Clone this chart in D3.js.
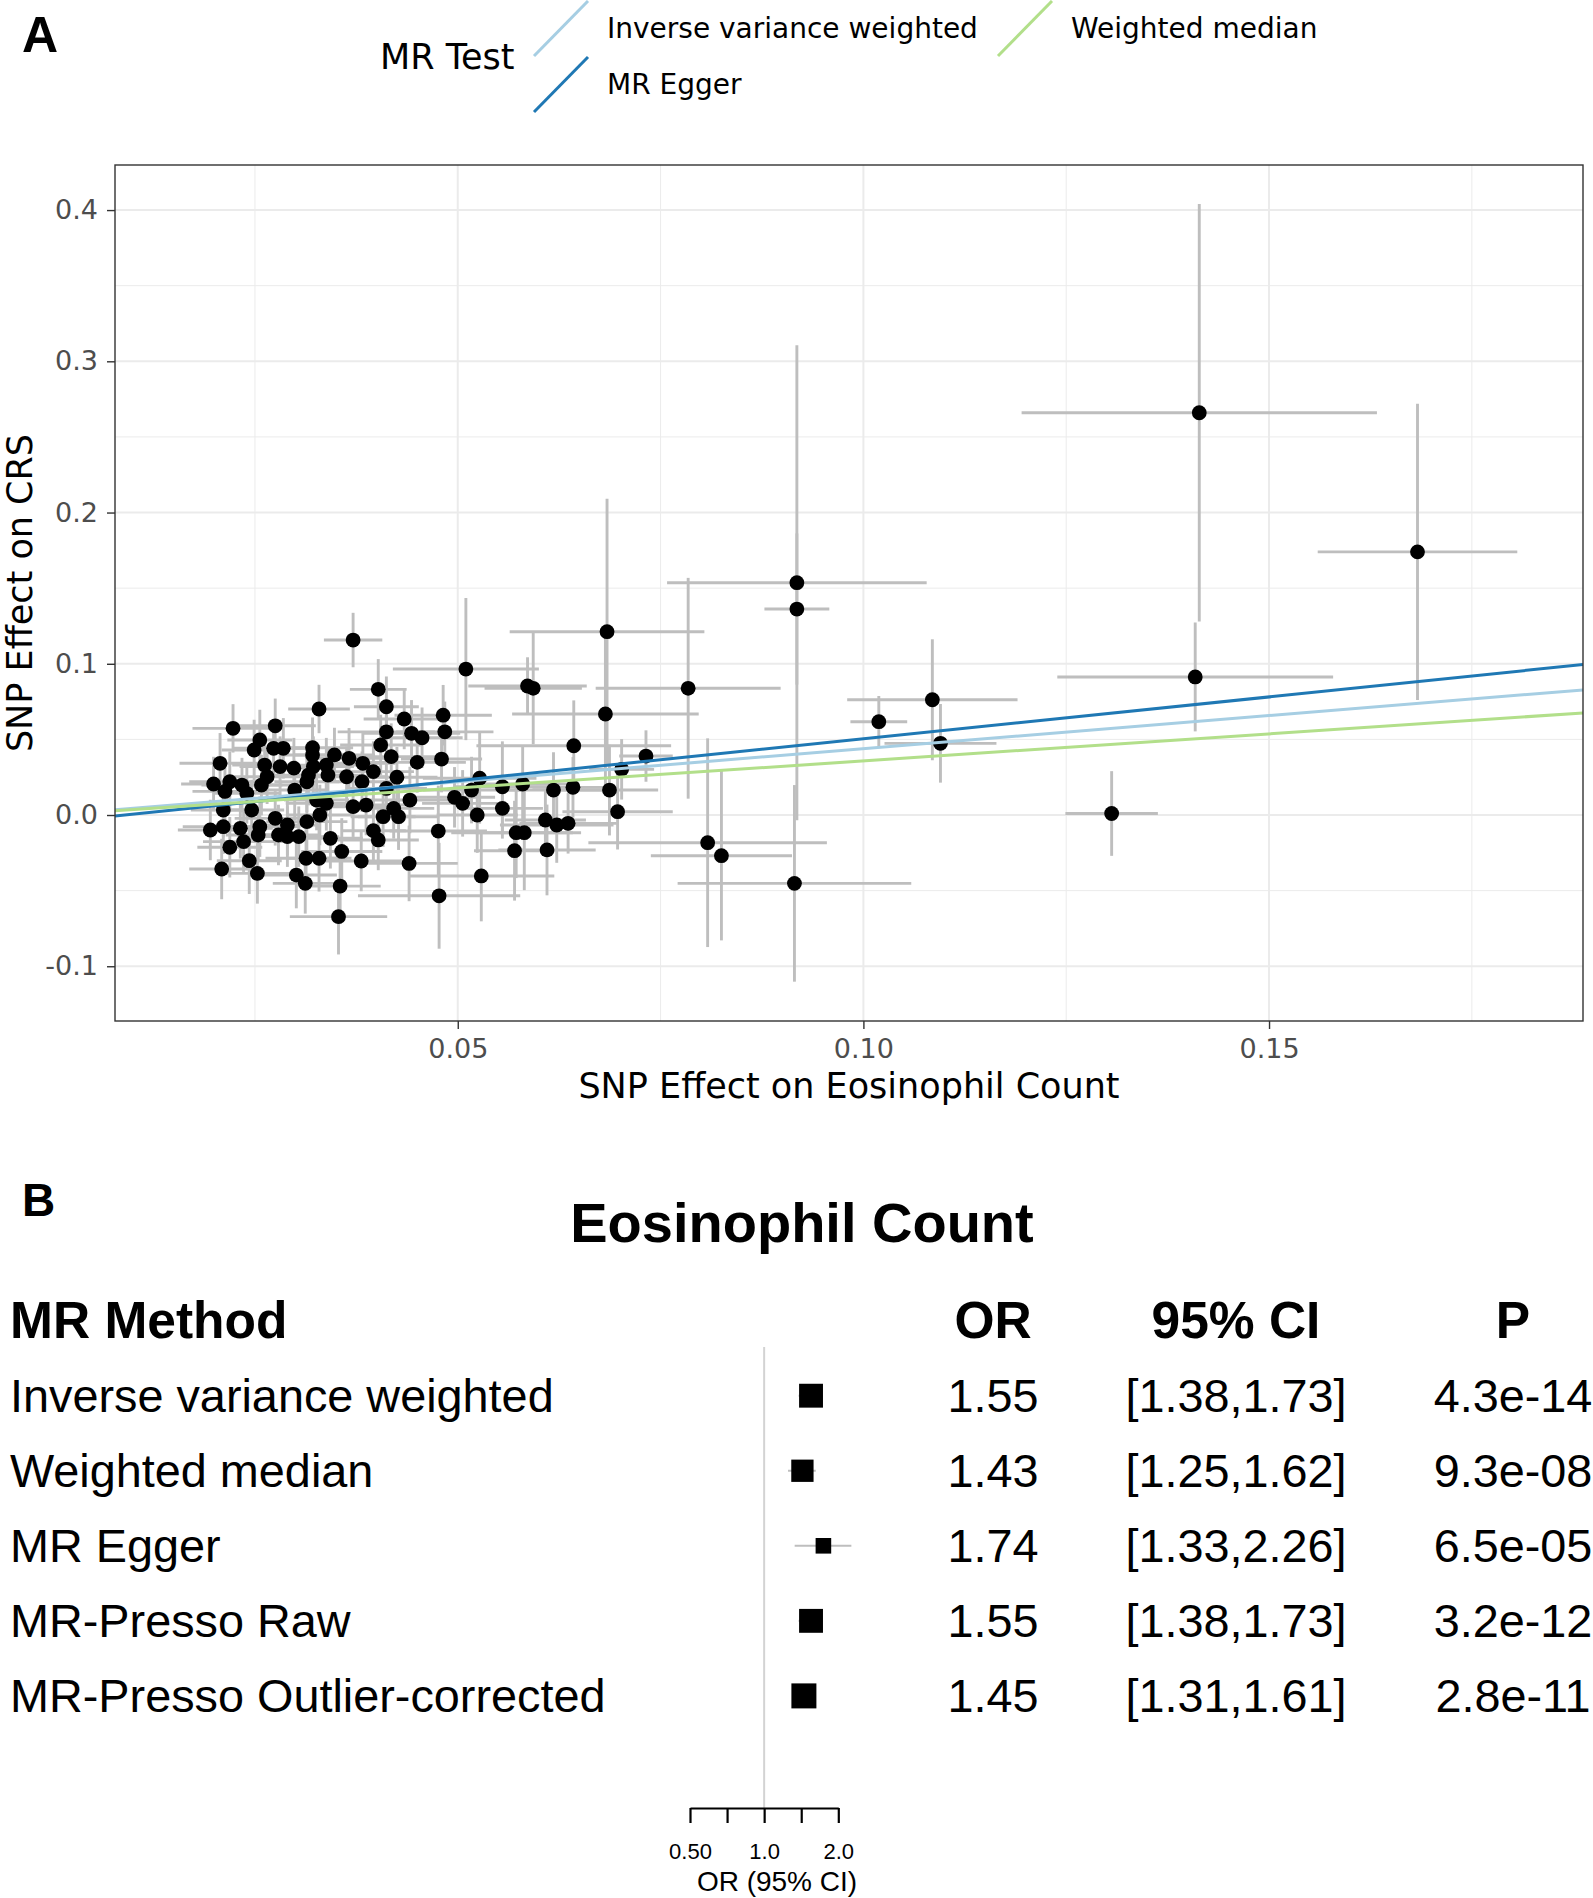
<!DOCTYPE html>
<html>
<head>
<meta charset="utf-8">
<script src="https://cdn.jsdelivr.net/npm/d3@7"></script>
<style>
  body { margin: 0; background: #fff; }
  svg { display: block; }
</style>
</head>
<body>
<svg id="fig" width="1593" height="1898"></svg>
<script>
// ---- panel A data: [beta eosinophil, beta CRS, se eosinophil, se CRS]
const snps = [
  [0.1414, 0.266, 0.0219, 0.138], [0.1683, 0.174, 0.0123, 0.098], [0.1409, 0.0913, 0.0170, 0.036],
  [0.1306, 0.001, 0.0057, 0.028], [0.1085, 0.0762, 0.0105, 0.040], [0.1095, 0.0474, 0.0069, 0.026],
  [0.1019, 0.0617, 0.0035, 0.017], [0.0918, 0.1536, 0.0160, 0.157], [0.0918, 0.1362, 0.0040, 0.050],
  [0.0915, -0.0452, 0.0144, 0.065], [0.0784, 0.0838, 0.0114, 0.073], [0.0808, -0.0183, 0.0147, 0.069],
  [0.0825, -0.0269, 0.0087, 0.056], [0.0732, 0.0390, 0.0033, 0.017], [0.0702, 0.0302, 0.0040, 0.020],
  [0.0697, 0.0022, 0.0068, 0.025], [0.0684, 0.1212, 0.0120, 0.088], [0.0682, 0.0668, 0.0115, 0.050],
  [0.0687, 0.0165, 0.0060, 0.030], [0.0643, 0.0458, 0.0120, 0.030], [0.0642, 0.0183, 0.0050, 0.020],
  [0.0618, 0.0165, 0.0060, 0.025], [0.0608, -0.0033, 0.0050, 0.020], [0.0622, -0.0066, 0.0070, 0.025],
  [0.0636, -0.0055, 0.0060, 0.020], [0.0610, -0.0231, 0.0060, 0.030], [0.0570, -0.0236, 0.0050, 0.033],
  [0.0572, -0.0117, 0.0080, 0.030], [0.0582, -0.0117, 0.0060, 0.038], [0.0586, 0.0853, 0.0073, 0.019],
  [0.0593, 0.0838, 0.0060, 0.037], [0.0580, 0.0205, 0.0060, 0.025], [0.0555, 0.0187, 0.0060, 0.030],
  [0.0555, 0.0044, 0.0050, 0.020], [0.0527, 0.0243, 0.0070, 0.030], [0.0517, 0.0165, 0.0060, 0.022],
  [0.0524, 0.0000, 0.0050, 0.025], [0.0529, -0.0403, 0.0090, 0.030], [0.0510, 0.0965, 0.0090, 0.047],
  [0.0496, 0.0117, 0.0050, 0.020], [0.0506, 0.0077, 0.0050, 0.022], [0.0476, -0.0106, 0.0060, 0.030],
  [0.0477, -0.0534, 0.0100, 0.035], [0.0482, 0.0660, 0.0060, 0.020], [0.0484, 0.0550, 0.0060, 0.020],
  [0.0480, 0.0370, 0.0050, 0.022], [0.0434, 0.0635, 0.0050, 0.020], [0.0443, 0.0540, 0.0060, 0.022],
  [0.0456, 0.0511, 0.0050, 0.020], [0.0450, 0.0348, 0.0060, 0.020], [0.0371, 0.1157, 0.0036, 0.018],
  [0.0402, 0.0831, 0.0035, 0.020], [0.0412, 0.0716, 0.0040, 0.020], [0.0412, 0.0550, 0.0060, 0.020],
  [0.0405, 0.0463, 0.0050, 0.020], [0.0418, 0.0386, 0.0060, 0.022], [0.0329, 0.0701, 0.0038, 0.016],
  [0.0223, 0.0573, 0.0050, 0.016], [0.0275, 0.0590, 0.0050, 0.018], [0.0256, 0.0496, 0.0040, 0.020],
  [0.0249, 0.0430, 0.0040, 0.020], [0.0273, 0.0441, 0.0050, 0.018], [0.0285, 0.0441, 0.0040, 0.020],
  [0.0321, 0.0445, 0.0050, 0.020], [0.0321, 0.0397, 0.0040, 0.020], [0.0348, 0.0397, 0.0050, 0.018],
  [0.0366, 0.0375, 0.0050, 0.020], [0.0383, 0.0342, 0.0040, 0.020], [0.0207, 0.0342, 0.0050, 0.020],
  [0.0262, 0.0330, 0.0040, 0.018], [0.0281, 0.0320, 0.0050, 0.020], [0.0298, 0.0310, 0.0040, 0.020],
  [0.0322, 0.0320, 0.0050, 0.020], [0.0338, 0.0330, 0.0040, 0.018], [0.0199, 0.0205, 0.0040, 0.018],
  [0.0219, 0.0220, 0.0050, 0.020], [0.0213, 0.0156, 0.0040, 0.020], [0.0234, 0.0198, 0.0050, 0.018],
  [0.0240, 0.0143, 0.0040, 0.020], [0.0258, 0.0198, 0.0040, 0.020], [0.0265, 0.0253, 0.0050, 0.018],
  [0.0316, 0.0264, 0.0050, 0.020], [0.0314, 0.0220, 0.0040, 0.020], [0.0340, 0.0264, 0.0040, 0.018],
  [0.0363, 0.0253, 0.0050, 0.020], [0.0382, 0.0220, 0.0040, 0.020], [0.0396, 0.0287, 0.0050, 0.020],
  [0.0412, 0.0176, 0.0050, 0.020], [0.0441, 0.0099, 0.0050, 0.022], [0.0299, 0.0165, 0.0040, 0.020],
  [0.0326, 0.0099, 0.0040, 0.020], [0.0338, 0.0077, 0.0050, 0.018], [0.0371, 0.0055, 0.0040, 0.020],
  [0.0387, 0.0066, 0.0050, 0.020], [0.0421, 0.0044, 0.0050, 0.020], [0.0408, -0.0011, 0.0040, 0.020],
  [0.0427, -0.0011, 0.0050, 0.022], [0.0211, 0.0033, 0.0040, 0.018], [0.0246, 0.0033, 0.0040, 0.020],
  [0.0275, -0.0022, 0.0050, 0.018], [0.0290, -0.0066, 0.0040, 0.020], [0.0314, -0.0044, 0.0050, 0.020],
  [0.0330, 0.0000, 0.0040, 0.020], [0.0195, -0.0099, 0.0040, 0.020], [0.0211, -0.0077, 0.0050, 0.018],
  [0.0232, -0.0088, 0.0040, 0.020], [0.0256, -0.0077, 0.0050, 0.020], [0.0254, -0.0132, 0.0040, 0.018],
  [0.0279, -0.0132, 0.0050, 0.020], [0.0290, -0.0143, 0.0040, 0.020], [0.0304, -0.0143, 0.0050, 0.020],
  [0.0343, -0.0154, 0.0040, 0.020], [0.0236, -0.0176, 0.0050, 0.020], [0.0219, -0.0213, 0.0040, 0.020],
  [0.0357, -0.0241, 0.0050, 0.022], [0.0402, -0.0165, 0.0050, 0.020], [0.0396, -0.0104, 0.0040, 0.020],
  [0.0243, -0.0302, 0.0040, 0.022], [0.0253, -0.0386, 0.0050, 0.020], [0.0209, -0.0357, 0.0040, 0.020],
  [0.0313, -0.0286, 0.0050, 0.020], [0.0329, -0.0286, 0.0040, 0.022], [0.0381, -0.0304, 0.0050, 0.020],
  [0.0440, -0.0320, 0.0060, 0.025], [0.0301, -0.0397, 0.0050, 0.022], [0.0312, -0.0452, 0.0040, 0.020],
  [0.0355, -0.0470, 0.0050, 0.025], [0.0353, -0.0672, 0.0060, 0.025], [0.0425, 0.0250, 0.0050, 0.020]
]

// MR fits (slope = log OR)
const mrTests = ['Inverse variance weighted', 'MR Egger', 'Weighted median']
const mrOR = [1.55, 1.74, 1.43]
const mrIntercept = [0, -0.005, 0]

const xTicks = [0.05, 0.1, 0.15]
const xMinor = [0.025, 0.075, 0.125, 0.175]
const yTicks = [-0.1, 0, 0.1, 0.2, 0.3, 0.4]
const yMinor = [-0.05, 0.05, 0.15, 0.25, 0.35]

// ---- panel B data
const methods = ['Inverse variance weighted', 'Weighted median', 'MR Egger', 'MR-Presso Raw', 'MR-Presso Outlier-corrected']
const orValues = [1.55, 1.43, 1.74, 1.55, 1.45]
const ciLow = [1.38, 1.25, 1.33, 1.38, 1.31]
const ciHigh = [1.73, 1.62, 2.26, 1.73, 1.61]
const pValues = ['4.3e-14', '9.3e-08', '6.5e-05', '3.2e-12', '2.8e-11']
const orTicks = [0.5, 0.7071, 1, 1.4142, 2]
const orTickLabels = ['0.50', '', '1.0', '', '2.0']

const fontA = "'DejaVu Sans', sans-serif"
const fontB = "'Liberation Sans', Arial, sans-serif"
const lineColors = { 'Inverse variance weighted': '#A6CEE3', 'MR Egger': '#1F78B4', 'Weighted median': '#B2DF8A' }

const svg = d3.select('#fig')
svg.append('rect').attr('width', 1593).attr('height', 1898).attr('fill', '#fff')

// ================= panel A =================
const pA = { left: 115, right: 1583, top: 165, bottom: 1021 }
const x = d3.scaleLinear().domain([0.00775, 0.1887]).range([pA.left, pA.right])
const y = d3.scaleLinear().domain([-0.1362, 0.4298]).range([pA.bottom, pA.top])

svg.append('defs').append('clipPath').attr('id', 'clipA')
  .append('rect').attr('x', pA.left).attr('y', pA.top)
  .attr('width', pA.right - pA.left).attr('height', pA.bottom - pA.top)

const grid = svg.append('g').attr('stroke', '#EBEBEB')
grid.selectAll('.vmin').data(xMinor).enter().append('line')
  .attr('x1', d => x(d)).attr('x2', d => x(d)).attr('y1', pA.top).attr('y2', pA.bottom).attr('stroke-width', 1)
grid.selectAll('.hmin').data(yMinor).enter().append('line')
  .attr('y1', d => y(d)).attr('y2', d => y(d)).attr('x1', pA.left).attr('x2', pA.right).attr('stroke-width', 1)
grid.selectAll('.vmaj').data(xTicks).enter().append('line')
  .attr('x1', d => x(d)).attr('x2', d => x(d)).attr('y1', pA.top).attr('y2', pA.bottom).attr('stroke-width', 2)
grid.selectAll('.hmaj').data(yTicks).enter().append('line')
  .attr('y1', d => y(d)).attr('y2', d => y(d)).attr('x1', pA.left).attr('x2', pA.right).attr('stroke-width', 2)

const plot = svg.append('g').attr('clip-path', 'url(#clipA)')

// error bars
const bars = plot.append('g').attr('stroke', '#BEBEBE').attr('stroke-width', 2.9)
bars.selectAll('.ev').data(snps).enter().append('line')
  .attr('x1', d => x(d[0])).attr('x2', d => x(d[0]))
  .attr('y1', d => y(d[1] - d[3])).attr('y2', d => y(d[1] + d[3]))
bars.selectAll('.eh').data(snps).enter().append('line')
  .attr('x1', d => x(d[0] - d[2])).attr('x2', d => x(d[0] + d[2]))
  .attr('y1', d => y(d[1])).attr('y2', d => y(d[1]))

// points
plot.append('g').selectAll('circle').data(snps).enter().append('circle')
  .attr('cx', d => x(d[0])).attr('cy', d => y(d[1])).attr('r', 7.4).attr('fill', '#000')

// MR lines
const xd = x.domain()
plot.append('g').selectAll('line').data(mrTests).enter().append('line')
  .attr('x1', x(xd[0])).attr('x2', x(xd[1]))
  .attr('y1', (d, i) => y(mrIntercept[i] + Math.log(mrOR[i]) * xd[0]))
  .attr('y2', (d, i) => y(mrIntercept[i] + Math.log(mrOR[i]) * xd[1]))
  .attr('stroke', d => lineColors[d]).attr('stroke-width', 3)

svg.append('rect').attr('x', pA.left).attr('y', pA.top)
  .attr('width', pA.right - pA.left).attr('height', pA.bottom - pA.top)
  .attr('fill', 'none').attr('stroke', '#333').attr('stroke-width', 1.4)

// axes
const yAxis = svg.append('g').attr('transform', `translate(${pA.left},0)`)
  .call(d3.axisLeft(y).tickValues(yTicks).tickSize(8).tickPadding(9).tickFormat(d => d.toFixed(1)))
const xAxis = svg.append('g').attr('transform', `translate(0,${pA.bottom})`)
  .call(d3.axisBottom(x).tickValues(xTicks).tickSize(8).tickFormat(d => d.toFixed(2)))
;[xAxis, yAxis].forEach(a => {
  a.select('.domain').remove()
  a.selectAll('.tick line').attr('stroke', '#333').attr('stroke-width', 1.4)
  a.selectAll('.tick text').attr('fill', '#4D4D4D').style('font-family', fontA).style('font-size', '27px')
})
xAxis.selectAll('.tick text').attr('dy', null).attr('y', 37)

svg.append('text').attr('x', (pA.left + pA.right) / 2).attr('y', 1098)
  .attr('text-anchor', 'middle').style('font-family', fontA).style('font-size', '35px')
  .text('SNP Effect on Eosinophil Count')
svg.append('text').attr('transform', `translate(32,${(pA.top + pA.bottom) / 2}) rotate(-90)`)
  .attr('text-anchor', 'middle').style('font-family', fontA).style('font-size', '35px')
  .text('SNP Effect on CRS')

// legend
const legend = svg.append('g')
legend.append('text').attr('x', 380).attr('y', 69).style('font-family', fontA).style('font-size', '35px').text('MR Test')
const keyPos = { 'Inverse variance weighted': [534, 1], 'MR Egger': [534, 57], 'Weighted median': [998, 1] }
const keyW = 54, keyH = 55
mrTests.forEach(t => {
  const [kx, ky] = keyPos[t]
  legend.append('line').attr('x1', kx).attr('y1', ky + keyH).attr('x2', kx + keyW).attr('y2', ky)
    .attr('stroke', lineColors[t]).attr('stroke-width', 3)
  legend.append('text').attr('x', kx + 73).attr('y', ky + 37)
    .style('font-family', fontA).style('font-size', '28px').text(t)
})

svg.append('text').attr('x', 22).attr('y', 52).style('font-family', fontB)
  .style('font-weight', 'bold').style('font-size', '50px').text('A')

// ================= panel B =================
svg.append('text').attr('x', 22).attr('y', 1216).style('font-family', fontB)
  .style('font-weight', 'bold').style('font-size', '46px').text('B')
svg.append('text').attr('x', 802).attr('y', 1242).attr('text-anchor', 'middle')
  .style('font-family', fontB).style('font-weight', 'bold').style('font-size', '56px').text('Eosinophil Count')

const colOR = 993, colCI = 1236, colP = 1513
const headerY = 1338
const header = svg.append('g').style('font-family', fontB).style('font-weight', 'bold').style('font-size', '51.5px')
header.append('text').attr('x', 10).attr('y', headerY).text('MR Method')
header.append('text').attr('x', colOR).attr('y', headerY).attr('text-anchor', 'middle').text('OR')
header.append('text').attr('x', colCI).attr('y', headerY).attr('text-anchor', 'middle').text('95% CI')
header.append('text').attr('x', colP).attr('y', headerY).attr('text-anchor', 'middle').text('P')

const rowY = d3.scalePoint().domain(methods).range([1395.7, 1695.9])
const orX = d3.scaleLog().base(2).domain([0.5, 2]).range([690, 838.3])
const axisY = 1808

// null line
svg.append('line').attr('x1', orX(1)).attr('x2', orX(1)).attr('y1', 1347).attr('y2', axisY)
  .attr('stroke', '#D3D3D3').attr('stroke-width', 2)

const rowFont = '46.8px'
const rows = svg.append('g').selectAll('g').data(methods).enter().append('g')
  .attr('transform', d => `translate(0,${rowY(d)})`)
rows.append('text').attr('x', 10).attr('y', 16.5)
  .style('font-family', fontB).style('font-size', rowFont).text(d => d)
rows.append('text').attr('x', colOR).attr('y', 16.5).attr('text-anchor', 'middle')
  .style('font-family', fontB).style('font-size', rowFont).text((d, i) => orValues[i].toFixed(2))
rows.append('text').attr('x', colCI).attr('y', 16.5).attr('text-anchor', 'middle')
  .style('font-family', fontB).style('font-size', rowFont)
  .text((d, i) => `[${ciLow[i].toFixed(2)},${ciHigh[i].toFixed(2)}]`)
rows.append('text').attr('x', colP).attr('y', 16.5).attr('text-anchor', 'middle')
  .style('font-family', fontB).style('font-size', rowFont).text((d, i) => pValues[i])

// CI lines and boxes (box size from precision)
const precision = methods.map((d, i) => 3.92 / (Math.log(ciHigh[i]) - Math.log(ciLow[i])))
const boxSize = d3.scaleSqrt().domain([0, d3.max(precision)]).range([0, 25])
rows.append('line')
  .attr('x1', (d, i) => orX(ciLow[i])).attr('x2', (d, i) => orX(ciHigh[i]))
  .attr('y1', 0).attr('y2', 0).attr('stroke', '#BEBEBE').attr('stroke-width', 2)
rows.append('rect')
  .attr('x', (d, i) => orX(orValues[i]) - boxSize(precision[i]) / 2)
  .attr('y', (d, i) => -boxSize(precision[i]) / 2)
  .attr('width', (d, i) => boxSize(precision[i]))
  .attr('height', (d, i) => boxSize(precision[i]))
  .attr('fill', '#000')

const orAxis = svg.append('g').attr('transform', `translate(0,${axisY})`)
  .call(d3.axisBottom(orX).tickValues(orTicks).tickSize(15).tickSizeOuter(0)
    .tickFormat((d, i) => orTickLabels[i]))
orAxis.select('.domain').attr('stroke', '#000').attr('stroke-width', 2.2)
orAxis.selectAll('.tick line').attr('stroke', '#000').attr('stroke-width', 2.2)
orAxis.selectAll('.tick text').attr('fill', '#000').attr('dy', null).attr('y', 51)
  .style('font-family', fontB).style('font-size', '22px')
svg.append('text').attr('x', 777).attr('y', 1891).attr('text-anchor', 'middle')
  .style('font-family', fontB).style('font-size', '28px').text('OR (95% CI)')
</script>
</body>
</html>
